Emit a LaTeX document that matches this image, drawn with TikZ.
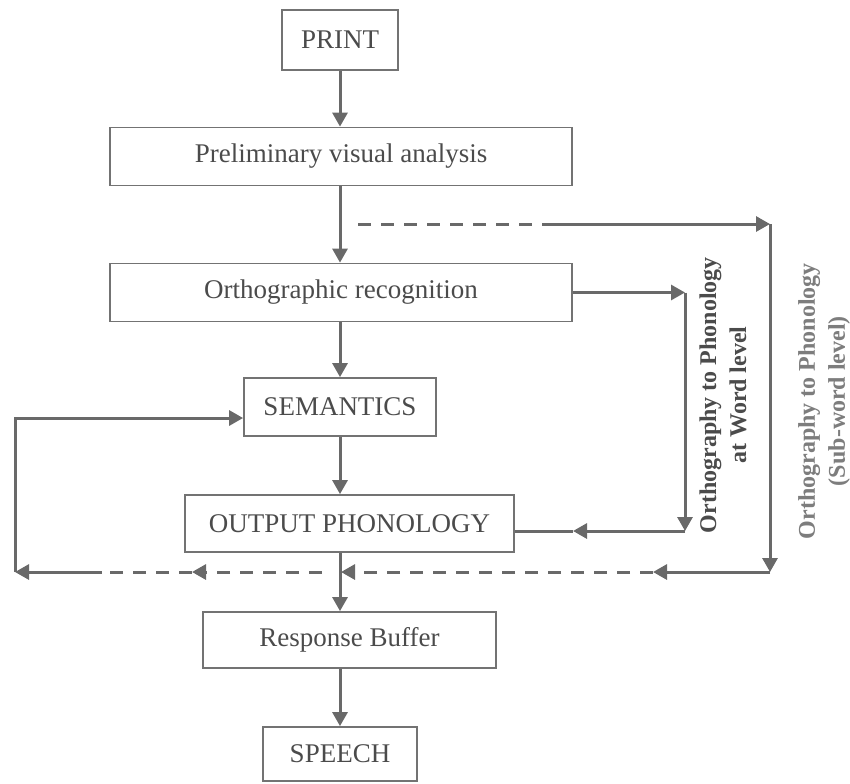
\documentclass[tikz,border=0pt]{standalone}
\usepackage{fontspec}
\setmainfont{Liberation Serif}
\usetikzlibrary{arrows.meta,positioning}
\definecolor{boxgray}{RGB}{115,115,115}
\definecolor{linegray}{RGB}{105,105,105}
\definecolor{textgray}{RGB}{75,75,75}
\definecolor{palegray}{RGB}{125,125,125}

\begin{document}
\begin{tikzpicture}[x=0.5pt,y=-0.5pt,
  stagebox/.style={draw=boxgray,line width=0.9pt,minimum height=29pt,inner sep=0pt,
    text=textgray,font=\fontsize{13.5}{15}\selectfont},
  flowline/.style={draw=linegray,line width=1.5pt},
  flowdash/.style={flowline,dash pattern=on 6.5pt off 5pt},
  flowtip/.style={-{Triangle[length=7pt,width=7.5pt]}},
  routelabel/.style={rotate=90,align=center,font=\bfseries\fontsize{12}{15}\selectfont}
]
  \useasboundingbox (0,0) rectangle (850,783);
  % Stages
  \node[stagebox,minimum width=58pt,minimum height=30pt] (print) at (340,40) {PRINT};
  \node[stagebox,minimum width=231pt] (prelim) at (341,156.5) {Preliminary visual analysis};
  \node[stagebox,minimum width=231pt] (ortho) at (341,292.5) {Orthographic recognition};
  \node[stagebox,minimum width=96pt] (sem) at (340,407) {SEMANTICS};
  \node[stagebox,minimum width=164.5pt,minimum height=28.5pt] (outph) at (349.5,523.5) {OUTPUT PHONOLOGY};
  \node[stagebox,minimum width=146.5pt,minimum height=28pt] (resp) at (349.5,640) {Response Buffer};
  \node[stagebox,minimum width=77pt,minimum height=27pt] (speech) at (340,754) {SPEECH};
  % Main vertical flow
  \draw[flowline,flowtip] (print) -- (print |- prelim.north);
  \draw[flowline,flowtip] (print |- prelim.south) -- (print |- ortho.north);
  \draw[flowline,flowtip] (print |- ortho.south) -- (sem);
  \draw[flowline,flowtip] (sem) -- (sem |- outph.north);
  \draw[flowline,flowtip] (sem |- outph.south) -- (sem |- resp.north);
  \draw[flowline,flowtip] (sem |- resp.south) -- (speech);
  % Word level route
  \coordinate (wordtop) at (685,292.5);
  \coordinate (wordbot) at (685,531);
  \coordinate (wordmid) at (573,531);
  \draw[flowline,flowtip] (ortho.east) -- (wordtop);
  \draw[flowline,flowtip] (wordtop) -- (wordbot);
  \draw[flowline,flowtip] (wordbot) -- (wordmid);
  \draw[flowline] (wordmid) -- (outph.east |- wordbot);
  % Sub-word route
  \coordinate (substart) at (358,224);
  \coordinate (subsolid) at (545,224);
  \coordinate (subtop) at (770,224);
  \coordinate (subbot) at (770,572);
  \coordinate (submid) at (653,572);
  \coordinate (subdash) at (352,572);
  \coordinate (join) at (341,572);
  \draw[flowdash] (substart) -- (subsolid);
  \draw[flowline,flowtip] (subsolid) -- (subtop);
  \draw[flowline,flowtip] (subtop) -- (subbot);
  \draw[flowline,flowtip] (subbot) -- (submid);
  \draw[flowdash] (submid) -- (subdash);
  \draw[flowline,flowtip] (subdash) -- (join);
  % Feedback to semantics
  \coordinate (leftstart) at (322,572);
  \coordinate (leftmid) at (192,572);
  \coordinate (leftsolid) at (102,572);
  \coordinate (leftcorner) at (15,572);
  \coordinate (lefttop) at (15,418);
  \draw[flowdash,flowtip] (leftstart) -- (leftmid);
  \draw[flowdash] (leftmid) -- (leftsolid);
  \draw[flowline,flowtip] (leftsolid) -- (leftcorner);
  \draw[flowline,flowtip] (leftcorner) -- (lefttop) -- (lefttop -| sem.west);
  % Route labels
  \node[routelabel,text=textgray] (wordlbl) at (723,395) {Orthography to Phonology\\at Word level};
  \node[routelabel,text=palegray] (sublbl) at (824,401) {Orthography to Phonology\\(Sub-word level)};
\end{tikzpicture}
\end{document}
